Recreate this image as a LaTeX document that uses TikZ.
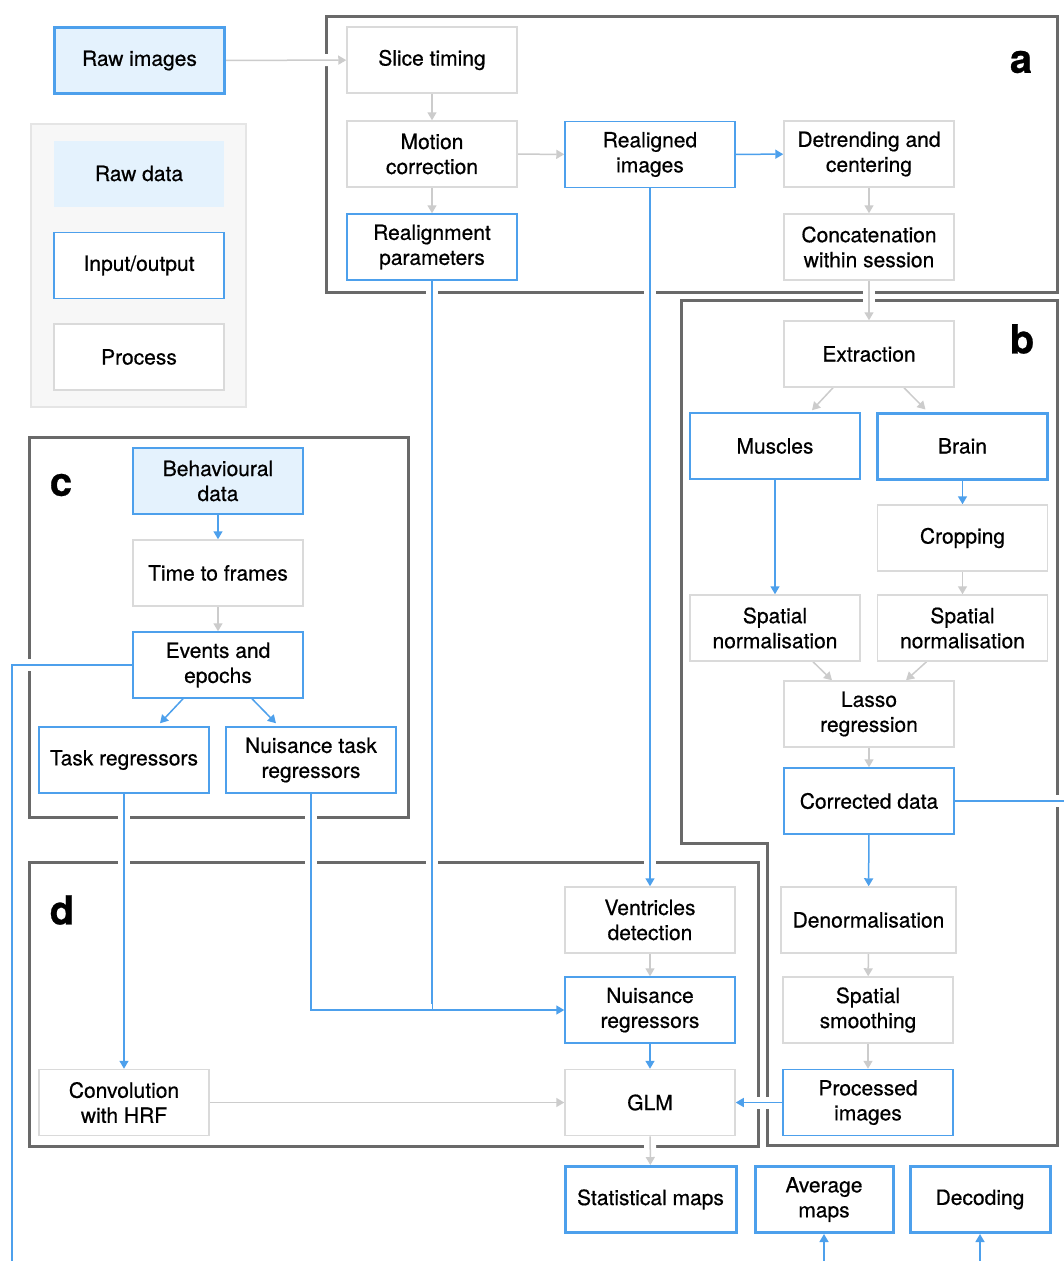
\documentclass[tikz,border=0pt]{standalone}
\usepackage{fontspec}
\setmainfont{TeX Gyre Heros}[FakeBold=0.6]
\usetikzlibrary{arrows.meta}
\definecolor{lineblue}{RGB}{77,160,236}
\definecolor{fillblue}{RGB}{228,242,253}
\definecolor{boxgray}{RGB}{218,218,218}
\definecolor{wiregray}{RGB}{204,204,204}
\definecolor{panelgray}{RGB}{105,105,105}
\definecolor{legendgray}{RGB}{247,247,247}
\pgfdeclarelayer{back}
\pgfdeclarelayer{front}
\pgfsetlayers{back,main,front}

\begin{document}
\begin{tikzpicture}[x=1pt, y=-1pt,
	box/.style = {rectangle, minimum width=170pt, minimum height=66pt, inner sep=0pt, align=center, fill=white, font=\fontsize{21}{25}\selectfont, line width=1.5pt},
	procbox/.style = {box, draw=boxgray},
	iobox/.style = {box, draw=lineblue},
	outbox/.style = {box, draw=lineblue, line width=3pt},
	rawbox/.style = {box, draw=lineblue, fill=fillblue},
	panel/.style = {draw=panelgray, line width=3pt},
	paneltag/.style = {font=\fontsize{40}{40}\selectfont\bfseries},
	wire/.style = {line width=1.5pt, preaction={draw=white, line width=12pt, -}},
	gwire/.style = {wire, draw=wiregray, -{Triangle[length=8pt,width=9pt]}},
	bwire/.style = {wire, draw=lineblue, -{Triangle[length=8pt,width=9pt]}},
	bline/.style = {wire, draw=lineblue}]
				\useasboundingbox (0,0) rectangle (1064,1261);
				\begin{pgfonlayer}{back}
					\fill[white] (0,0) rectangle (1064,1261);
					% legend and panels
					\draw[fill=legendgray, draw=black!10, line width=1.5pt] (31,124) rectangle (246,407);
					\draw[panel] (326,16) rectangle (1057,292);
					\draw[panel] (681,300) -- (1057,300) -- (1057,1145) -- (767,1145) -- (767,843) -- (681,843) -- cycle;
					\draw[panel] (29,437) rectangle (408,817);
					\draw[panel] (29,862) rectangle (758,1146);
				\end{pgfonlayer}
				\begin{pgfonlayer}{front}
					\node[rawbox, line width=3pt] (rawimg) at (139.5,60.5) {Raw images};
					\node[box, fill=fillblue] (rawdata) at (139,173.5) {Raw data};
					\node[iobox] (inout) at (139,265.5) {Input/output};
					\node[procbox] (process) at (139,357) {Process};
					% a
					\node[paneltag] (taga) at (1021,62) {a};
					\node[procbox] (slice) at (432,60) {Slice timing};
					\node[procbox] (motion) at (432,154) {Motion\\correction};
					\node[iobox] (realignpar) at (432,247) {Realignment\\parameters};
					\node[iobox] (realigned) at (650,154.5) {Realigned\\images};
					\node[procbox] (detrend) at (869,154) {Detrending and\\centering};
					\node[procbox] (concat) at (869,247) {Concatenation\\within session};
					% b
					\node[paneltag] (tagb) at (1022,339) {b};
					\node[procbox] (extraction) at (869,354) {Extraction};
					\node[iobox] (muscles) at (775,446) {Muscles};
					\node[outbox] (brain) at (962.5,446) {Brain};
					\node[procbox] (cropping) at (962.5,538) {Cropping};
					\node[procbox] (spatialL) at (775,628) {Spatial\\normalisation};
					\node[procbox] (spatialR) at (962.5,628) {Spatial\\normalisation};
					\node[procbox] (lasso) at (869,714) {Lasso\\regression};
					\node[iobox] (corrected) at (869,801) {Corrected data};
					\node[procbox, minimum width=175pt] (denorm) at (868.5,920) {Denormalisation};
					\node[procbox] (smoothing) at (868,1010) {Spatial\\smoothing};
					\node[iobox] (processed) at (868,1102.5) {Processed\\images};
					% c
					\node[paneltag] (tagc) at (61,485) {c};
					\node[rawbox] (behav) at (218,481) {Behavioural\\data};
					\node[procbox] (timeframes) at (218,573) {Time to frames};
					\node[iobox] (events) at (218,665) {Events and\\epochs};
					\node[iobox] (taskreg) at (124,760) {Task regressors};
					\node[iobox] (nuistask) at (311,760) {Nuisance task\\regressors};
					% d
					\node[paneltag] (tagd) at (62,910) {d};
					\node[procbox] (conv) at (124,1102.5) {Convolution\\with HRF};
					\node[procbox] (ventricles) at (650,920) {Ventricles\\detection};
					\node[iobox] (nuisreg) at (650,1010) {Nuisance\\regressors};
					\node[procbox] (glm) at (650,1102.5) {GLM};
					% outputs
					\node[outbox, minimum width=171pt] (statmaps) at (650.5,1199.5) {Statistical maps};
					\node[outbox, minimum width=138pt] (avgmaps) at (824,1199.5) {Average\\maps};
					\node[outbox, minimum width=140pt] (decoding) at (980,1199.5) {Decoding};
				\end{pgfonlayer}
				\coordinate (leftdrop) at (12,1261);
				\coordinate (rightexit) at (1064,801);
				\coordinate (avgfeed) at (824,1261);
				\coordinate (decfeed) at (980,1261);
				\coordinate (nuisjoin) at (432,1010);
				% connectors
				\draw[gwire] (rawimg) -- (slice);
				\draw[gwire] (slice) -- (motion);
				\draw[gwire] (motion) -- (realignpar);
				\draw[gwire] (motion) -- (realigned);
				\draw[bwire] (realigned) -- (detrend);
				\draw[gwire] (detrend) -- (concat);
				\draw[gwire] (concat) -- (extraction);
				\draw[gwire] ([xshift=-36pt]extraction.south) -- ([xshift=37pt,yshift=2pt]muscles.north);
				\draw[gwire] ([xshift=35pt]extraction.south) -- ([xshift=-37pt,yshift=2pt]brain.north);
				\draw[bwire] (muscles) -- (spatialL);
				\draw[bwire] (brain) -- (cropping);
				\draw[gwire] (cropping) -- (spatialR);
				\draw[gwire] ([xshift=38pt]spatialL.south) -- ([xshift=-37pt]lasso.north);
				\draw[gwire] ([xshift=-36pt]spatialR.south) -- ([xshift=37pt]lasso.north);
				\draw[gwire] (lasso) -- (corrected);
				\draw[bwire] (corrected) -- (denorm);
				\draw[bline] (corrected) -- (rightexit);
				\draw[gwire] (denorm) -- (smoothing);
				\draw[gwire] (smoothing) -- (processed);
				\draw[bwire] (processed) -- (glm);
				\draw[bwire] (realigned) -- (ventricles);
				\draw[gwire] (ventricles) -- (nuisreg);
				\draw[bwire] (nuisreg) -- (glm);
				\draw[gwire] (glm) -- (statmaps);
				\draw[bwire] (realignpar.south) |- (nuisreg.west);
				\draw[bline] (nuistask.south) |- (nuisjoin);
				\draw[bwire] (behav) -- (timeframes);
				\draw[gwire] (timeframes) -- (events);
				\draw[bwire] ([xshift=-35pt]events.south) -- ([xshift=36pt,yshift=3pt]taskreg.north);
				\draw[bwire] ([xshift=34pt]events.south) -- ([xshift=-35pt,yshift=3pt]nuistask.north);
				\draw[bline] (events.west) -| (leftdrop);
				\draw[bwire] (taskreg) -- (conv);
				\draw[gwire] (conv) -- (glm);
				\draw[bwire] (avgfeed) -- (avgmaps);
				\draw[bwire] (decfeed) -- (decoding);
			\end{tikzpicture}
\end{document}
